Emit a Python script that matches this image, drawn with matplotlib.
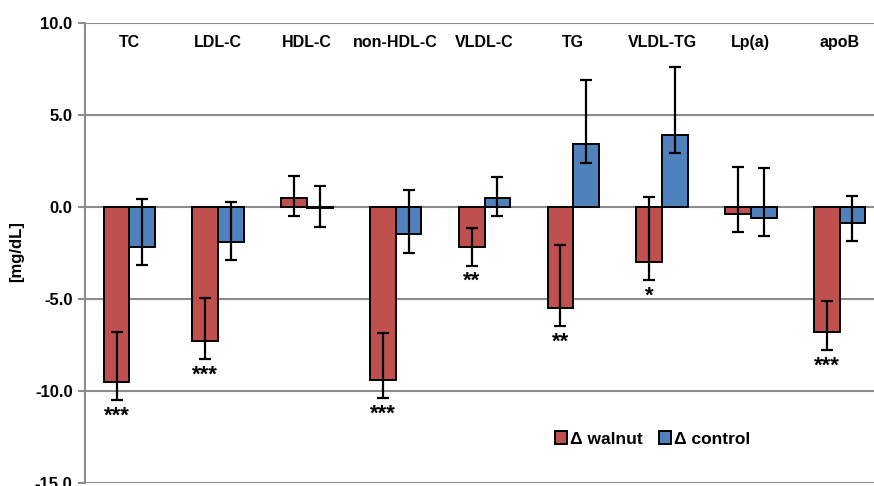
import matplotlib
matplotlib.use('Agg')
import matplotlib.pyplot as plt
from matplotlib.patches import Patch
import numpy as np

# data
categories = ['TC', 'LDL-C', 'HDL-C', 'non-HDL-C', 'VLDL-C', 'TG', 'VLDL-TG', 'Lp(a)', 'apoB']
walnut = [-9.5, -7.3, 0.5, -9.4, -2.2, -5.5, -3.0, -0.4, -6.8]
walnut_err_up = [2.7, 2.35, 1.15, 2.55, 1.05, 3.4, 3.55, 2.55, 1.65]
walnut_err_down = [1.0, 1.0, 1.0, 1.0, 1.0, 1.0, 1.0, 1.0, 1.0]
control = [-2.2, -1.9, -0.05, -1.5, 0.5, 3.4, 3.9, -0.6, -0.9]
control_err_up = [2.6, 2.15, 1.15, 2.4, 1.1, 3.5, 3.7, 2.7, 1.5]
control_err_down = [0.95, 1.0, 1.05, 1.0, 1.0, 1.0, 1.0, 1.0, 0.95]
stars = ['***', '***', '', '***', '**', '**', '*', '', '***']

plt.rcParams['font.family'] = ['Liberation Sans', 'DejaVu Sans']
plt.rcParams['axes.unicode_minus'] = False

red = '#C0504D'
blue = '#4F81BD'
grid_col = '#8C8C8C'

fig = plt.figure(figsize=(8.74, 4.86), dpi=100)
ax = fig.add_axes([85/874, 3.3/486, 799/874, 460/486])

x = np.arange(len(categories))
w = 0.29
ax.bar(x - w/2, walnut, w, color=red, edgecolor='black', linewidth=1.4, zorder=3)
ax.bar(x + w/2, control, w, color=blue, edgecolor='black', linewidth=1.4, zorder=3)
ax.errorbar(x - w/2, walnut, yerr=[walnut_err_down, walnut_err_up], fmt='none',
            ecolor='black', elinewidth=1.6, capsize=4, capthick=1.6, zorder=4)
ax.errorbar(x + w/2, control, yerr=[control_err_down, control_err_up], fmt='none',
            ecolor='black', elinewidth=1.6, capsize=4, capthick=1.6, zorder=4)

# significance stars under walnut error bars
for i, s in enumerate(stars):
    if s:
        ax.annotate(s, (x[i] - w/2, walnut[i] - walnut_err_down[i]), xytext=(0, -4),
                    textcoords='offset points', ha='center', va='top', fontsize=16,
                    fontweight='bold')

# category names along the top
for i, c in enumerate(categories):
    ax.text(x[i], 8.9, c, ha='center', va='center', fontsize=11.5, fontweight='bold')

ax.set_xlim(-0.5, len(categories) - 0.5)
ax.set_ylim(-15, 10)
ax.set_yticks([10, 5, 0, -5, -10, -15])
ax.set_yticklabels(['%.1f' % v for v in [10, 5, 0, -5, -10, -15]], fontsize=12, fontweight='bold')
ax.set_xticks([])
ax.yaxis.grid(True, color=grid_col, linewidth=1.5, zorder=0)
ax.set_axisbelow(True)
ax.tick_params(axis='y', length=5, width=1.5, color=grid_col, pad=4)
for side in ['top', 'right', 'bottom']:
    ax.spines[side].set_visible(False)
ax.spines['left'].set_color(grid_col)
ax.spines['left'].set_linewidth(1.5)

fig.text(17/874, 1 - 252/486, '[mg/dL]', rotation=90, ha='center', va='center',
         fontsize=12, fontweight='bold')

handles = [Patch(facecolor=red, edgecolor='black', linewidth=1.4),
           Patch(facecolor=blue, edgecolor='black', linewidth=1.4)]
fig.legend(handles, ['Δ walnut', 'Δ control'], loc='center left',
           bbox_to_anchor=(546/874, 1 - 439/486), frameon=False, ncol=2,
           prop={'size': 12.5, 'weight': 'bold'}, handlelength=0.7, handleheight=0.7,
           handletextpad=0.2, columnspacing=0.9, borderpad=0)

fig.savefig('out.png', dpi=100)
